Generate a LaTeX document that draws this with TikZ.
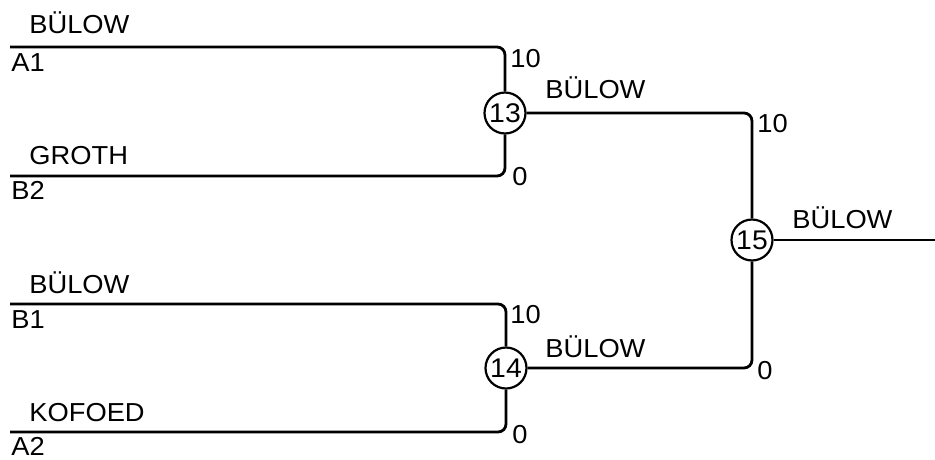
\documentclass[tikz,border=0pt]{standalone}
\usepackage{fontspec}
\setmainfont[FakeStretch=1.05]{Liberation Sans}
\begin{document}
\begin{tikzpicture}[x=1pt,y=-1pt,line width=2.8pt,
  lbl/.style={anchor=base west,inner sep=0pt,font=\fontsize{26}{30}\selectfont},
  game/.style={circle,draw,line width=2.2pt,minimum size=41pt,inner sep=0pt,
    font=\fontsize{27}{30}\selectfont},
  wire/.style={rounded corners=8pt}]

\useasboundingbox (0,0) rectangle (935,459);

\coordinate (a1) at (10,47);
\coordinate (b2) at (10,176);
\coordinate (b1) at (10,304);
\coordinate (a2) at (10,432);
\coordinate (out) at (935,240);

\node[game] (g13) at (505,113) {13};
\node[game] (g14) at (506,368) {14};
\node[game] (g15) at (752,240) {15};

% players
\node[lbl] (n1) at (28,33) {BÜLOW};
\node[lbl] (s1) at (10,71) {A1};
\node[lbl] (n2) at (28,164) {GROTH};
\node[lbl] (s2) at (10,199) {B2};
\node[lbl] (n3) at (28,293) {BÜLOW};
\node[lbl] (s3) at (10,328) {B1};
\node[lbl] (n4) at (28,421) {KOFOED};
\node[lbl] (s4) at (10,455) {A2};

% scores
\node[lbl] (p1) at (509,67) {10};
\node[lbl] (p2) at (511,185) {0};
\node[lbl] (p3) at (509,323) {10};
\node[lbl] (p4) at (511,443) {0};
\node[lbl] (p5) at (756,132) {10};
\node[lbl] (p6) at (756,379) {0};

% winners
\node[lbl] (w13) at (544,98) {BÜLOW};
\node[lbl] (w14) at (544,357) {BÜLOW};
\node[lbl] (w15) at (791,228) {BÜLOW};

\draw[wire] (a1) -| (g13);
\draw[wire] (b2) -| (g13);
\draw[wire] (b1) -| (g14);
\draw[wire] (a2) -| (g14);
\draw[wire] (g13) -| (g15);
\draw[wire] (g14) -| (g15);
\draw (g15) -- (out);

\end{tikzpicture}
\end{document}
